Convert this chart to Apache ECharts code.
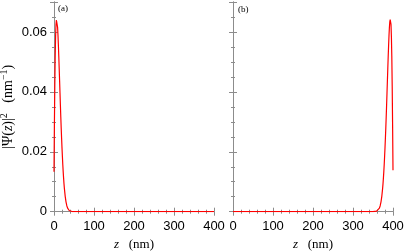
<!DOCTYPE html>
<html>
<head>
<meta charset="utf-8">
<script src="https://cdn.jsdelivr.net/npm/echarts@6/dist/echarts.min.js"></script>
<style>html,body{margin:0;padding:0;background:#fff}#c{width:404px;height:251px}</style>
</head>
<body>
<div id="c"></div>
<script>
// Panel (a): probability density near z = 0
var zA   = [0,1,2,3,4,5,6,7,8,9,10,11,12,13,14,15,16,17,18,19,20,21,22,23,24,25,26,28,30,32,34,36,38,41,45,50,100,200,300,400];
var psiA = [0.0133,0.029,0.042,0.052,0.0585,0.0625,0.0640,0.0642,0.0634,0.0615,0.0588,0.0555,0.0518,0.0478,0.0437,0.0396,0.0355,0.0316,0.0279,0.0245,0.0213,0.0184,0.0157,0.0133,0.0112,0.0093,0.0077,0.0051,0.0033,0.0020,0.0012,0.0007,0.0004,0.0002,0.00005,0,0,0,0,0];
// Panel (b): probability density near z = 400
var zB   = [0,100,200,300,350,355,359,362,364,366,368,370,372,374,375,376,377,378,379,380,381,382,383,384,385,386,387,388,389,390,391,392,393,394,395,396,397,398,399,400];
var psiB = [0,0,0,0,0,0.00005,0.0002,0.0004,0.0007,0.0012,0.0020,0.0033,0.0051,0.0077,0.0093,0.0112,0.0133,0.0157,0.0184,0.0213,0.0245,0.0279,0.0316,0.0355,0.0396,0.0437,0.0478,0.0518,0.0555,0.0588,0.0615,0.0634,0.0641,0.0640,0.0625,0.0585,0.052,0.042,0.029,0.0138];
var xTicks = [0,100,200,300,400];
var yTicks = [0,0.02,0.04,0.06];
var panelLabels = ['(a)','(b)'];

function pairs(xs, ys){ return xs.map(function(x,i){return [x, ys[i]];}); }

var gray = '#8c8c8c';
var lineStyle = {color: gray, width: 1};
var tickIn = {inside: true, length: 4, lineStyle: {color: gray}};
var minorIn = {show: true, splitNumber: 5, length: 2, lineStyle: {color: gray}};
var minorY = {show: true, splitNumber: 4, length: 2, lineStyle: {color: gray}};
var serif = 'Liberation Serif';
var sans = 'Liberation Sans';

var grids = [
  {left: 54, width: 160, top: 2, bottom: 39.3, containLabel: false, outerBoundsMode: 'none'},
  {left: 233, width: 160, top: 2, bottom: 39.3, containLabel: false, outerBoundsMode: 'none'}
];
var nameRich = {
  i: {fontFamily: serif, fontStyle: 'italic', fontSize: 14, color: '#000', lineHeight: 18},
  n: {fontFamily: serif, fontSize: 14, color: '#000', lineHeight: 18},
  s: {fontFamily: serif, fontSize: 10, color: '#000', lineHeight: 18, verticalAlign: 'top'}
};
var xAxes = [], yAxes = [];
[0,1].forEach(function(g){
  xAxes.push({
    type: 'value', gridIndex: g, min: 0, max: 400, interval: 100, position: 'bottom',
    axisLine: {show: true, lineStyle: lineStyle}, axisTick: tickIn, minorTick: minorIn,
    splitLine: {show: false},
    axisLabel: {color: '#000', fontFamily: sans, fontSize: 13, margin: 8,
      formatter: function(v){ return xTicks.indexOf(v) >= 0 ? String(v) : ''; }},
    name: '{i|z}{n|   (nm)}', nameLocation: 'middle', nameGap: 25,
    nameTextStyle: {rich: {i: {fontFamily: serif, fontStyle: 'italic', fontSize: 13, color: '#000'},
                           n: {fontFamily: serif, fontSize: 13, color: '#000'}}}
  });
  xAxes.push({
    type: 'value', gridIndex: g, min: 0, max: 400, interval: 100, position: 'top',
    axisLine: {show: true, lineStyle: lineStyle}, axisTick: tickIn, minorTick: minorIn,
    splitLine: {show: false}, axisLabel: {show: false}
  });
  yAxes.push({
    type: 'value', gridIndex: g, min: 0, max: 0.07, interval: 0.02, position: 'left',
    axisLine: {show: true, lineStyle: lineStyle}, axisTick: tickIn, minorTick: minorY,
    splitLine: {show: false},
    axisLabel: {show: g === 0, color: '#000', fontFamily: sans, fontSize: 13, margin: 7, showMaxLabel: false,
      formatter: function(v){ for (var k=0;k<yTicks.length;k++){ if (Math.abs(v-yTicks[k])<1e-9) return String(yTicks[k]); } return ''; }},
    name: g === 0 ? '{n||Ψ(}{i|z}{n|)|}{s|2}{n|   (nm}{s|−1}{n|)}' : '', nameLocation: 'middle', nameGap: 37,
    nameTextStyle: {rich: nameRich}
  });
  yAxes.push({
    type: 'value', gridIndex: g, min: 0, max: 0.07, interval: 0.02, position: 'right',
    axisLine: {show: true, lineStyle: lineStyle}, axisTick: tickIn, minorTick: minorY,
    splitLine: {show: false}, axisLabel: {show: false}
  });
});

var chart = echarts.init(document.getElementById('c'), null, {renderer: 'canvas'});
chart.setOption({
  animation: false,
  backgroundColor: '#fff',
  grid: grids,
  xAxis: xAxes,
  yAxis: yAxes,
  graphic: [
    {type: 'text', left: 58, top: 4, style: {text: panelLabels[0], font: '9px "Liberation Serif"', fill: '#000'}},
    {type: 'text', left: 238, top: 5, style: {text: panelLabels[1], font: '9px "Liberation Serif"', fill: '#000'}}
  ],
  series: [
    {type: 'line', xAxisIndex: 0, yAxisIndex: 0, data: pairs(zA, psiA), showSymbol: false, symbol: 'none',
     lineStyle: {color: '#ff0000', width: 1.2}, z: 5},
    {type: 'line', xAxisIndex: 2, yAxisIndex: 2, data: pairs(zB, psiB), showSymbol: false, symbol: 'none',
     lineStyle: {color: '#ff0000', width: 1.2}, z: 5}
  ]
});
</script>
</body>
</html>
